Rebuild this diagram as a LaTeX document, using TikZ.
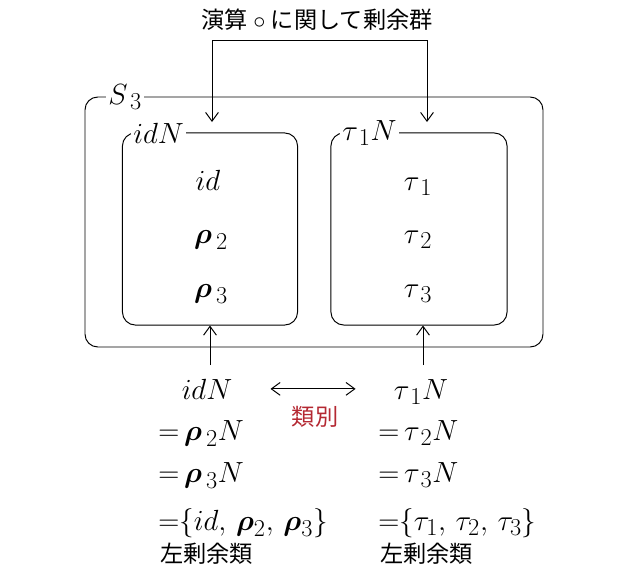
\documentclass[tikz,border=0pt]{standalone}
\usepackage{amsmath}
\usepackage{fontspec}
\newfontfamily\jpfont{Noto Sans CJK JP}
\usetikzlibrary{arrows.meta}
\DeclareMathSizes{20}{20}{17.28}{12}
\definecolor{kuired}{RGB}{180,40,50}
\tikzset{
  >={Straight Barb[length=2.2mm,width=3.2mm]},
  setbox/.style={draw, line width=0.7pt, rounded corners=3.2mm},
  boxlabel/.style={fill=white, inner sep=1.5pt, anchor=west, font=\fontsize{20}{24}\selectfont},
  elem/.style={anchor=base, inner sep=0pt, font=\fontsize{20}{24}\selectfont},
  eqline/.style={anchor=base west, inner sep=0pt, font=\fontsize{20}{24}\selectfont},
  jptext/.style={inner sep=0pt, font=\jpfont\fontsize{16.5}{20}\selectfont},
  conn/.style={line width=0.7pt}
}
\begin{document}
\begin{tikzpicture}[x=0.025cm, y=-0.025cm]
  \useasboundingbox (0,0) rectangle (633,573);
  % boxes
  \draw[setbox] (85,97) rectangle (543,347);
  \node[boxlabel] (Slab) at (106,97) {$S_{\,3}$};
  \node[setbox, minimum width=4.375cm, minimum height=4.8cm] (lbox) at (210,229) {};
  \node[setbox, minimum width=4.4cm, minimum height=4.8cm] (rbox) at (419,229) {};
  \node[boxlabel] (llab) at (131,133) {$idN$};
  \node[boxlabel] (rlab) at (340,133) {$\tau_{\,1}N$};
  % elements
  \node[elem] (id) at (208,190) {$id$};
  \node[elem] (rho2) at (211,243) {$\boldsymbol{\rho}_{\,2}$};
  \node[elem] (rho3) at (211,297) {$\boldsymbol{\rho}_{\,3}$};
  \node[elem] (tau1) at (418,190) {$\tau_{\,1}$};
  \node[elem] (tau2) at (418,243) {$\tau_{\,2}$};
  \node[elem] (tau3) at (418,297) {$\tau_{\,3}$};
  % title and its arrows
  \node[jptext] (title) at (317,20) {演算\makebox[1em]{$\circ$}に関して剰余群};
  \coordinate (barL) at (212,40);
  \coordinate (barR) at (427,40);
  \coordinate (tipL) at (212,122);
  \coordinate (tipR) at (427,122);
  \draw[conn,<->] (tipL) -- (barL) -- (barR) -- (tipR);
  % cosets below
  \node[elem] (lq) at (207,399) {$idN$};
  \node[elem] (rq) at (421,399) {$\tau_{\,1}N$};
  \coordinate (lstart) at (210,365);
  \coordinate (rstart) at (423,365);
  \draw[conn,->] (lstart) -- (lstart |- lbox.south);
  \draw[conn,->] (rstart) -- (rstart |- rbox.south);
  \draw[conn,<->] ([xshift=0.95cm]lq.east) -- ([xshift=-0.95cm]lq.east -| rq.west);
  \node[jptext, text=kuired] (rui) at (315,417) {類別};
  \node[eqline] (l2) at (158,440) {${=}\,\boldsymbol{\rho}_{\,2}N$};
  \node[eqline] (l3) at (158,482) {${=}\,\boldsymbol{\rho}_{\,3}N$};
  \node[eqline] (l4) at (158,530) {${=}\{id,\,\boldsymbol{\rho}_2,\,\boldsymbol{\rho}_3\}$};
  \node[jptext, anchor=west] (lname) at (160,554) {左剰余類};
  \node[eqline] (r2) at (378,440) {${=}\,\tau_{\,2}N$};
  \node[eqline] (r3) at (378,482) {${=}\,\tau_{\,3}N$};
  \node[eqline] (r4) at (378,530) {${=}\{\tau_1,\,\tau_2,\,\tau_3\}$};
  \node[jptext, anchor=west] (rname) at (380,554) {左剰余類};
\end{tikzpicture}
\end{document}
